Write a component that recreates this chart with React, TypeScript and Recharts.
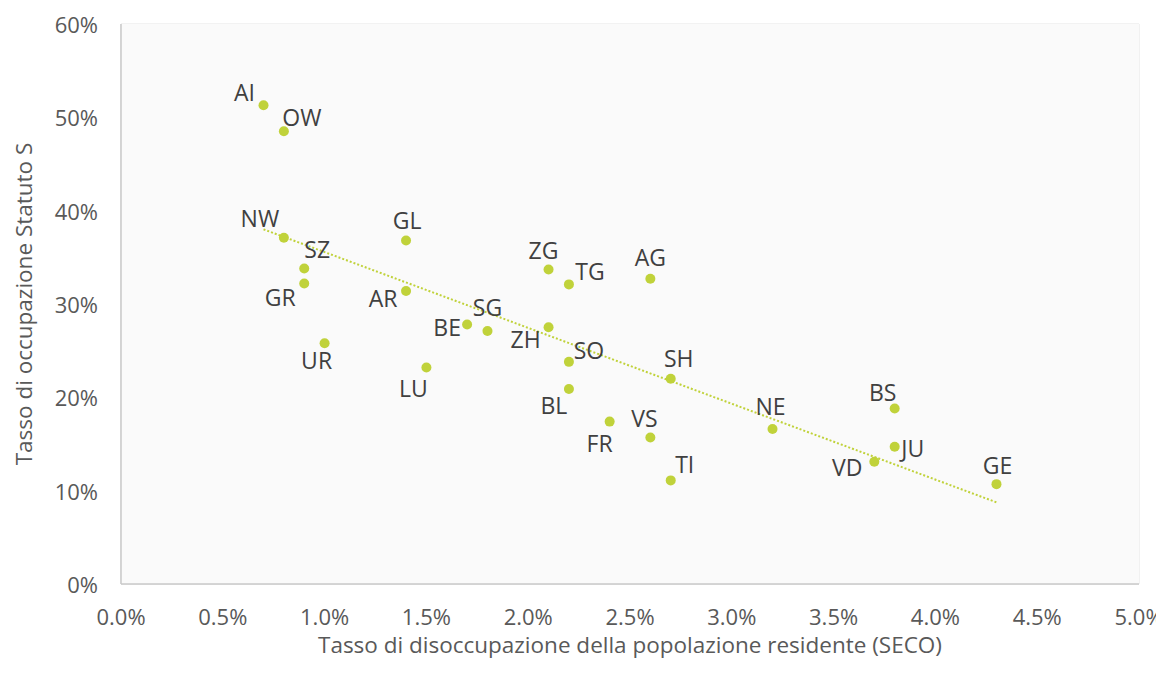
import React from 'react';
import { ScatterChart, Scatter, XAxis, YAxis, CartesianGrid, LabelList } from 'recharts';

const cantons = ['AI','OW','NW','SZ','GR','UR','GL','AR','LU','BE','SG','ZG','ZH','TG','SO','BL','FR','AG','VS','SH','TI','NE','BS','JU','VD','GE'];
const unemployment = [0.7,0.8,0.8,0.9,0.9,1.0,1.4,1.4,1.5,1.7,1.8,2.1,2.1,2.2,2.2,2.2,2.4,2.6,2.6,2.7,2.7,3.2,3.8,3.8,3.7,4.3];
const occupation = [51.3,48.5,37.1,33.8,32.2,25.8,36.8,31.4,23.2,27.8,27.1,33.7,27.5,32.1,23.8,20.9,17.4,32.7,15.7,22.0,11.1,16.6,18.8,14.7,13.1,10.7];
const trendX = [0.7,4.3];
const trendY = [38.0,8.75];
const xTicks = [0,0.5,1,1.5,2,2.5,3,3.5,4,4.5,5];
const yTicks = [0,10,20,30,40,50,60];

const labelOffsets: Record<string,[number,number]> = {
  AI:[-19,-13], OW:[18,-14], NW:[-24,-20], SZ:[13,-20], GR:[-24,14], UR:[-8,17],
  GL:[1,-21], AR:[-23,7], LU:[-13,21], BE:[-20,2], SG:[0,-24], ZG:[-5,-19],
  ZH:[-23,12], TG:[21,-13], SO:[20,-12], BL:[-15,16], FR:[-10,21], AG:[0,-22],
  VS:[-6,-19], SH:[8,-21], TI:[14,-16], NE:[-2,-23], BS:[-12,-17], JU:[18,1],
  VD:[-27,5], GE:[1,-19],
};

const points = cantons.map((c, i) => ({ name: c, x: unemployment[i], y: occupation[i] }));
const trend = trendX.map((x, i) => ({ x, y: trendY[i] }));

const FONT = '"Open Sans", "Noto Sans", sans-serif';
const GREEN = '#c0d23a';
const TICK = '#595959';

const renderLabel = (props: any) => {
  const { x, y, width, height, value } = props;
  const cx = x + width / 2;
  const cy = y + height / 2;
  const off = labelOffsets[value] || [0, -20];
  return (
    <text x={cx + off[0]} y={cy + off[1]} textAnchor="middle" dominantBaseline="central"
      fill="#404040" fontSize={23} fontFamily={FONT}>{value}</text>
  );
};

const XTick = (props: any) => {
  const { x, y, payload } = props;
  return (
    <text x={x} y={y + 12} textAnchor="middle" dominantBaseline="central" fill={TICK} fontSize={22} fontFamily={FONT}>
      {Number(payload.value).toFixed(1) + '%'}
    </text>
  );
};

const YTick = (props: any) => {
  const { x, y, payload } = props;
  return (
    <text x={x} y={y} textAnchor="end" dominantBaseline="central" fill={TICK} fontSize={22} fontFamily={FONT}>
      {payload.value + '%'}
    </text>
  );
};

export default function App() {
  return (
    <div style={{ margin: -8, width: 1164, height: 686, background: '#fff' }}>
      <ScatterChart width={1164} height={686} margin={{ top: 24, right: 25, left: 0, bottom: 0 }}>
        <rect x={121} y={24} width={1018} height={560} fill="#fafafa" />
        <CartesianGrid stroke="#e4e4e4" strokeWidth={1} />
        <XAxis type="number" dataKey="x" domain={[0, 5]} ticks={xTicks} height={102}
          tickLine={false} axisLine={{ stroke: '#c8c8c8', strokeWidth: 1.5 }} tickSize={0} tickMargin={20}
          tick={<XTick />} interval={0}
          label={{ value: 'Tasso di disoccupazione della popolazione residente (SECO)', position: 'insideBottom', offset: 33, fill: TICK, fontSize: 22.5, fontFamily: FONT }} />
        <YAxis type="number" dataKey="y" domain={[0, 60]} ticks={yTicks} width={121}
          tickLine={false} axisLine={{ stroke: '#c8c8c8', strokeWidth: 1.5 }} tickSize={0} tickMargin={23}
          tick={<YTick />} interval={0}
          label={{ value: 'Tasso di occupazione Statuto S', angle: -90, position: 'insideLeft', offset: 24, style: { textAnchor: 'middle' }, fill: TICK, fontSize: 22.5, fontFamily: FONT }} />
        <Scatter data={trend} isAnimationActive={false} line={{ stroke: GREEN, strokeWidth: 2, strokeDasharray: '2 2' }}
          shape={() => <g />} />
        <Scatter data={points} isAnimationActive={false} fill={GREEN}
          shape={(p: any) => <circle cx={p.cx} cy={p.cy} r={5} fill={GREEN} />}>
          <LabelList dataKey="name" content={renderLabel} />
        </Scatter>
      </ScatterChart>
    </div>
  );
}
